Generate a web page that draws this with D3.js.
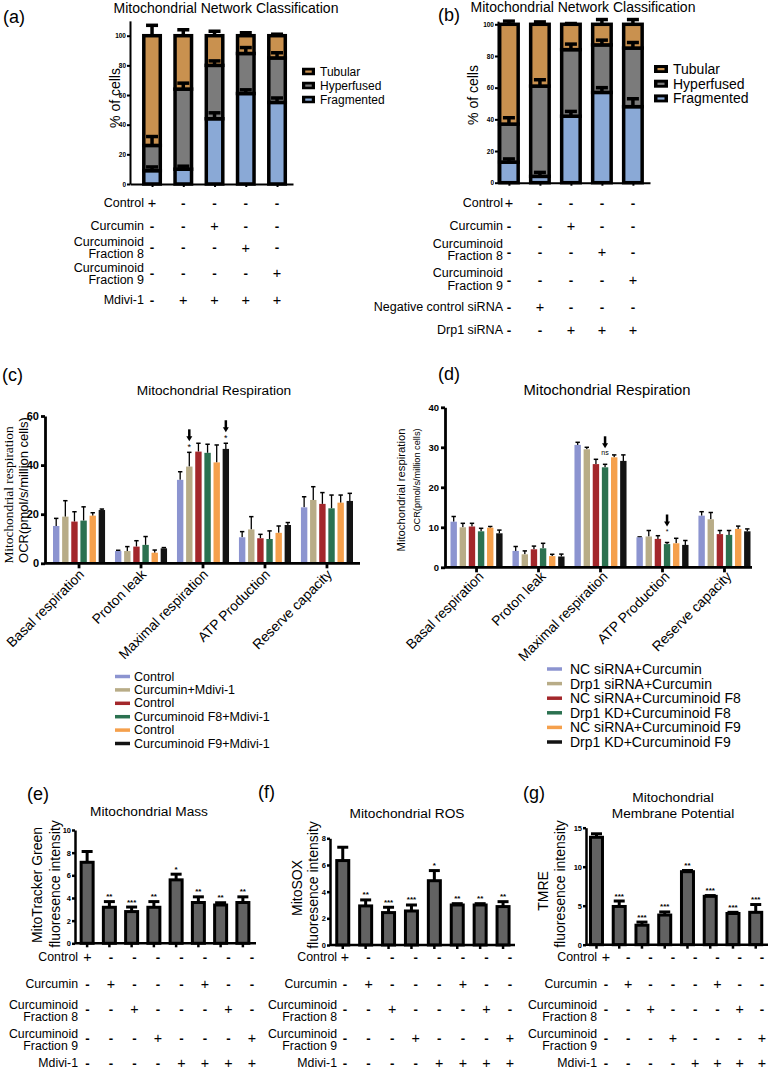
<!DOCTYPE html>
<html>
<head>
<meta charset="utf-8">
<script src="https://cdn.jsdelivr.net/npm/d3@7"></script>
<style>
  body { margin: 0; background: #fff; }
  svg { display: block; }
</style>
</head>
<body>
<div id="chart"></div>
<script>
// ---------- data ----------
const networkLegend = ["Tubular", "Hyperfused", "Fragmented"];

// (a) Mdivi-1 series, % of cells
const aFragmented = [9, 10, 44, 61, 55];
const aFragmentedErr = [2.5, 2, 4, 2.5, 3];
const aHyperfused = [17, 54, 36, 27, 30];
const aHyperfusedErr = [6, 4, 3, 4, 3.5];
const aTubular = [74, 36, 20, 12, 15];
const aTubularErr = [7, 4, 3, 2, 1];

// (b) Drp1 siRNA series
const bFragmented = [13, 4, 42, 57, 48];
const bFragmentedErr = [2, 2.5, 3, 3, 5];
const bHyperfused = [24, 57, 42, 30, 37];
const bHyperfusedErr = [4, 4, 3.5, 3, 3.5];
const bTubular = [63, 39, 16, 13, 15];
const bTubularErr = [2, 1.5, 0.5, 3, 3];

const aRowLabels = [["Control"], ["Curcumin"], ["Curcuminoid", "Fraction 8"], ["Curcuminoid", "Fraction 9"], ["Mdivi-1"]];
const aRowSigns = ["+----", "--+--", "---+-", "----+", "-++++"];
const bRowLabels = [["Control"], ["Curcumin"], ["Curcuminoid", "Fraction 8"], ["Curcuminoid", "Fraction 9"], ["Negative control siRNA"], ["Drp1 siRNA"]];
const bRowSigns = ["+----", "--+--", "---+-", "----+", "-+---", "--+++"];

// (c) / (d) mitochondrial respiration, OCR
const respGroups = ["Basal respiration", "Proton leak", "Maximal respiration", "ATP Production", "Reserve capacity"];

const cSeriesNames = ["Control", "Curcumin+Mdivi-1", "Control", "Curcuminoid F8+Mdivi-1", "Control", "Curcuminoid F9+Mdivi-1"];
const cMeans = [
  [15.2, 5.0, 34.0, 10.6, 22.8],
  [19.0, 5.0, 39.4, 13.8, 25.8],
  [17.0, 6.8, 45.5, 10.2, 24.2],
  [17.4, 7.5, 45.0, 9.9, 22.4],
  [19.4, 4.3, 41.1, 12.4, 24.7],
  [21.7, 6.1, 46.6, 15.6, 25.4]
];
const cErrors = [
  [3.1, 0.3, 3.3, 2.3, 4.3],
  [6.5, 1.8, 5.8, 5.2, 5.4],
  [4.0, 2.4, 3.4, 1.6, 4.6],
  [5.6, 3.4, 3.5, 3.3, 5.4],
  [1.2, 1.1, 7.1, 2.8, 3.1],
  [0.4, 0.3, 2.3, 1.0, 3.1]
];
const cMarks = [{group: 2, series: 1, text: "*"}, {group: 2, series: 5, text: "*"}];

const dSeriesNames = ["NC siRNA+Curcumin", "Drp1 siRNA+Curcumin", "NC siRNA+Curcuminoid F8", "Drp1 KD+Curcuminoid F8", "NC siRNA+Curcuminoid F9", "Drp1 KD+Curcuminoid F9"];
const dMeans = [
  [11.4, 4.1, 30.6, 7.5, 12.9],
  [10.0, 3.25, 29.5, 7.7, 12.0],
  [10.2, 4.5, 25.8, 7.1, 8.3],
  [9.0, 4.75, 25.0, 5.8, 8.1],
  [9.9, 2.8, 27.5, 6.0, 9.6],
  [8.5, 2.7, 26.6, 5.6, 9.0]
];
const dErrors = [
  [1.3, 1.1, 0.65, 0.1, 1.0],
  [1.0, 0.85, 0.5, 1.5, 1.7],
  [0.8, 0.8, 1.2, 0.8, 0.9],
  [0.75, 1.25, 0.75, 0.4, 1.1],
  [0.3, 0.45, 0.6, 1.25, 0.7],
  [0.8, 0.6, 1.5, 1.1, 0.6]
];
const dMarks = [{group: 2, series: 3, text: "ns"}, {group: 3, series: 3, text: "*"}];

// (e) (f) (g) fluorescence intensity
const eMeans = [7.15, 3.18, 2.8, 3.18, 5.6, 3.6, 3.38, 3.6];
const eErrors = [0.95, 0.5, 0.4, 0.5, 0.5, 0.5, 0.2, 0.5];
const eStars = ["", "**", "***", "**", "*", "**", "**", "**"];
const fMeans = [6.33, 2.93, 2.43, 2.55, 4.82, 3.0, 3.0, 2.88];
const fErrors = [1.0, 0.45, 0.4, 0.45, 0.76, 0.1, 0.1, 0.37];
const fStars = ["", "**", "***", "***", "*", "**", "**", "**"];
const gMeans = [13.77, 4.9, 2.5, 3.8, 9.36, 6.2, 4.0, 4.15];
const gErrors = [0.45, 0.7, 0.4, 0.4, 0.15, 0.1, 0.15, 1.0];
const gStars = ["", "***", "***", "***", "**", "***", "***", "***"];

const treatRowLabels = [["Control"], ["Curcumin"], ["Curcuminoid", "Fraction 8"], ["Curcuminoid", "Fraction 9"], ["Mdivi-1"]];
const treatRowSigns = ["+-------", "-+---+--", "--+---+-", "---+---+", "----++++"];

// ---------- drawing ----------
const W = 770, H = 1073;
const FONT = '"Liberation Sans", Arial, sans-serif';
const networkColors = {Tubular: "#c9914f", Hyperfused: "#7b7b7b", Fragmented: "#8aa9d6"};
const respColors = ["#8c94d0", "#b8ac87", "#a3272b", "#2b7150", "#f5a04c", "#131313"];

const svg = d3.select("#chart").append("svg")
    .attr("width", W)
    .attr("height", H)
    .style("font-family", FONT);
svg.append("rect").attr("width", W).attr("height", H).attr("fill", "#fff");

function addText(parent, txt, x, y, size, opts) {
    opts = opts || {};
    return parent.append("text")
        .attr("x", x)
        .attr("y", y)
        .attr("font-size", size)
        .attr("text-anchor", opts.anchor || "start")
        .attr("dominant-baseline", opts.baseline || "auto")
        .attr("font-weight", opts.weight || "normal")
        .attr("font-family", opts.family || FONT)
        .attr("fill", "#000")
        .text(txt);
}

function rotatedText(parent, txt, x, y, size, family) {
    parent.append("text")
        .attr("transform", `translate(${x},${y}) rotate(-90)`)
        .attr("text-anchor", "middle")
        .attr("dominant-baseline", "central")
        .attr("font-size", size)
        .attr("font-family", family || FONT)
        .text(txt);
}

function styleAxis(sel, lineW, fontSize) {
    sel.select(".domain").attr("stroke", "#000").attr("stroke-width", lineW);
    sel.selectAll(".tick line").attr("stroke", "#000").attr("stroke-width", lineW);
    sel.selectAll(".tick text")
        .attr("font-size", fontSize)
        .attr("font-weight", "bold")
        .attr("font-family", FONT)
        .attr("fill", "#000");
}

function drawConditions(p) {
    const g = svg.append("g");
    p.labels.forEach((lines, r) => {
        if (lines.length == 1) {
            addText(g, lines[0], p.labelX, p.rowY[r], p.font, {anchor: "end", baseline: "central"});
        } else {
            addText(g, lines[0], p.labelX, p.rowY[r] - p.lineGap / 2, p.font, {anchor: "end", baseline: "central"});
            addText(g, lines[1], p.labelX, p.rowY[r] + p.lineGap / 2, p.font, {anchor: "end", baseline: "central"});
        }
        p.signs[r].split("").forEach((s, i) => {
            addText(g, s, p.col(i), p.signY[r], s == "+" ? p.font + 2 : p.font + 1,
                {anchor: "middle", baseline: "central", weight: s == "-" ? "bold" : "normal"});
        });
    });
}

function drawNetwork(p) {
    const g = svg.append("g");
    const y = d3.scaleLinear().domain([0, 100]).range([p.baseY, p.y100]);
    const yAxisScale = d3.scaleLinear().domain([0, p.axisMax]).range([p.baseY, y(p.axisMax)]);
    const x = d3.scalePoint().domain(d3.range(p.frag.length))
        .range([p.axisX, p.axisEnd]).padding(p.pad).align(p.align);

    // stacked segments, bottom to top
    const segs = [];
    p.frag.forEach((f, i) => {
        const h = p.hyper[i], t = p.tub[i];
        segs.push({i: i, lo: 0, hi: f, err: p.fragErr[i], color: networkColors.Fragmented});
        segs.push({i: i, lo: f, hi: f + h, err: p.hyperErr[i], color: networkColors.Hyperfused});
        segs.push({i: i, lo: f + h, hi: f + h + t, err: p.tubErr[i], color: networkColors.Tubular});
    });

    g.selectAll("rect.seg").data(segs).join("rect")
        .attr("class", "seg")
        .attr("x", d => x(d.i) - p.barW / 2)
        .attr("y", d => y(d.hi))
        .attr("width", p.barW)
        .attr("height", d => y(d.lo) - y(d.hi))
        .attr("fill", d => d.color)
        .attr("stroke", "#000")
        .attr("stroke-width", 3.5);

    g.selectAll("line.err").data(segs).join("line")
        .attr("class", "err")
        .attr("x1", d => x(d.i)).attr("x2", d => x(d.i))
        .attr("y1", d => y(d.hi)).attr("y2", d => y(d.hi + d.err))
        .attr("stroke", "#000").attr("stroke-width", 3.5);
    g.selectAll("line.cap").data(segs).join("line")
        .attr("class", "cap")
        .attr("x1", d => x(d.i) - 6).attr("x2", d => x(d.i) + 6)
        .attr("y1", d => y(d.hi + d.err)).attr("y2", d => y(d.hi + d.err))
        .attr("stroke", "#000").attr("stroke-width", 3.5);

    const ya = g.append("g").attr("transform", `translate(${p.axisX},0)`)
        .call(d3.axisLeft(yAxisScale).tickValues([0, 20, 40, 60, 80, 100]).tickSize(3).tickSizeOuter(0).tickPadding(1));
    styleAxis(ya, 2, 6.5);

    const xa = g.append("g").attr("transform", `translate(0,${p.baseY})`)
        .call(d3.axisBottom(x).tickSize(3).tickSizeOuter(0).tickFormat(""));
    styleAxis(xa, 2, 6);

    rotatedText(g, "% of cells", p.ylabX, p.ylabY, 14);
    addText(g, p.title, p.titleX, p.titleY, 14, {anchor: "middle"});
    addText(g, p.tag, p.tagX, p.tagY, 18);

    // legend
    networkLegend.forEach((name, k) => {
        const ly = p.legendY + k * p.legendStep;
        g.append("rect").attr("x", p.legendX).attr("y", ly - p.swH / 2)
            .attr("width", p.swW).attr("height", p.swH).attr("fill", "#000");
        g.append("rect").attr("x", p.legendX + p.swW * 0.25).attr("y", ly - 1)
            .attr("width", p.swW * 0.5).attr("height", 2.2).attr("fill", networkColors[name]);
        addText(g, name, p.legendX + p.swW + 5, ly, p.legendFont, {baseline: "central"});
    });

    drawConditions({
        labels: p.rowLabels, signs: p.rowSigns, col: x,
        labelX: p.rowLabelX, rowY: p.rowY, signY: p.signY, lineGap: 12.5, font: 12.5
    });
}

function drawRespiration(p) {
    const g = svg.append("g");
    const y = d3.scaleLinear().domain([0, p.yMax]).range([p.baseY, p.topY]);
    const x0 = d3.scaleBand().domain(respGroups).range([p.bandStart, p.bandEnd]).paddingInner(0.16);
    const x1 = d3.scaleBand().domain(d3.range(p.names.length)).range([0, x0.bandwidth()]).paddingInner(0.3);

    const bars = [];
    p.means.forEach((row, s) => row.forEach((v, k) => {
        bars.push({s: s, group: respGroups[k], v: v, e: p.errors[s][k]});
    }));
    const bx = d => x0(d.group) + x1(d.s);

    g.selectAll("line.err").data(bars).join("line")
        .attr("class", "err")
        .attr("x1", d => bx(d) + x1.bandwidth() / 2).attr("x2", d => bx(d) + x1.bandwidth() / 2)
        .attr("y1", d => y(d.v)).attr("y2", d => y(d.v + d.e))
        .attr("stroke", "#000").attr("stroke-width", 1.3);
    g.selectAll("line.cap").data(bars).join("line")
        .attr("class", "cap")
        .attr("x1", d => bx(d) + x1.bandwidth() / 2 - 2.2).attr("x2", d => bx(d) + x1.bandwidth() / 2 + 2.2)
        .attr("y1", d => y(d.v + d.e)).attr("y2", d => y(d.v + d.e))
        .attr("stroke", "#000").attr("stroke-width", 1.5);
    g.selectAll("rect.bar").data(bars).join("rect")
        .attr("class", "bar")
        .attr("x", bx)
        .attr("y", d => y(d.v))
        .attr("width", x1.bandwidth())
        .attr("height", d => p.baseY - y(d.v))
        .attr("fill", d => respColors[d.s]);

    // significance marks with arrows
    p.marks.forEach(m => {
        const cx = x0(respGroups[m.group]) + x1(m.series) + x1.bandwidth() / 2;
        const top = y(p.means[m.series][m.group] + p.errors[m.series][m.group]);
        addText(g, m.text, cx, top - p.markGap, m.text == "*" ? p.starSize : 7, {anchor: "middle"});
        const ab = top - p.arrowGap, at = ab - 12;
        g.append("line").attr("x1", cx).attr("x2", cx).attr("y1", at).attr("y2", ab - 4)
            .attr("stroke", "#000").attr("stroke-width", 2.5);
        g.append("path").attr("d", `M${cx - 3},${ab - 5}L${cx + 3},${ab - 5}L${cx},${ab}Z`).attr("fill", "#000");
    });

    const ya = g.append("g").attr("transform", `translate(${p.axisX},0)`)
        .call(d3.axisLeft(y).tickValues(p.yTicks).tickSize(4).tickSizeOuter(0).tickPadding(2));
    styleAxis(ya, 2.8, p.tickFont);

    g.append("line").attr("x1", p.axisX).attr("x2", p.axisEnd)
        .attr("y1", p.baseY).attr("y2", p.baseY)
        .attr("stroke", "#000").attr("stroke-width", 2.8);
    g.selectAll("line.xt").data(respGroups).join("line")
        .attr("class", "xt")
        .attr("x1", d => x0(d) + x0.bandwidth() / 2).attr("x2", d => x0(d) + x0.bandwidth() / 2)
        .attr("y1", p.baseY).attr("y2", p.baseY + 5)
        .attr("stroke", "#000").attr("stroke-width", 2.8);
    g.selectAll("text.xl").data(respGroups).join("text")
        .attr("class", "xl")
        .attr("transform", d => `translate(${x0(d) + x0.bandwidth() / 2 + p.labelDX},${p.baseY + p.labelDY}) rotate(-45)`)
        .attr("text-anchor", "end")
        .attr("font-size", 13.8)
        .text(d => d);

    addText(g, p.title, p.titleX, p.titleY, p.titleSize, {anchor: "middle"});
    addText(g, p.tag, p.tagX, p.tagY, 18);
    p.ylab.forEach(l => rotatedText(g, l.text, l.x, l.y, l.size, l.family));

    p.names.forEach((name, s) => {
        const ly = p.legendY + s * p.legendStep;
        g.append("line").attr("x1", p.legendX).attr("x2", p.legendX + 15)
            .attr("y1", ly).attr("y2", ly)
            .attr("stroke", respColors[s]).attr("stroke-width", 3.5);
        addText(g, name, p.legendX + p.legendTextDX, ly, p.legendFont, {baseline: "central"});
    });
}

function drawFluor(p) {
    const g = svg.append("g");
    const y = d3.scaleLinear().domain([0, p.yMax]).range([p.baseY, p.topY]);
    const x = d3.scaleBand().domain(d3.range(p.means.length)).range([p.bandStart, p.bandEnd]);
    const cx = i => x(i) + x.bandwidth() / 2;
    const bw = 12;
    const bars = p.means.map((m, i) => ({i: i, m: m, e: p.errors[i], star: p.stars[i]}));

    g.selectAll("line.err").data(bars).join("line")
        .attr("class", "err")
        .attr("x1", d => cx(d.i)).attr("x2", d => cx(d.i))
        .attr("y1", d => y(d.m)).attr("y2", d => y(d.m + d.e))
        .attr("stroke", "#000").attr("stroke-width", 3);
    g.selectAll("line.cap").data(bars).join("line")
        .attr("class", "cap")
        .attr("x1", d => cx(d.i) - 5.5).attr("x2", d => cx(d.i) + 5.5)
        .attr("y1", d => y(d.m + d.e)).attr("y2", d => y(d.m + d.e))
        .attr("stroke", "#000").attr("stroke-width", 3);
    g.selectAll("rect.bar").data(bars).join("rect")
        .attr("class", "bar")
        .attr("x", d => cx(d.i) - bw / 2)
        .attr("y", d => y(d.m))
        .attr("width", bw)
        .attr("height", d => p.baseY - y(d.m))
        .attr("fill", "#626262")
        .attr("stroke", "#000")
        .attr("stroke-width", 3);
    g.selectAll("text.star").data(bars).join("text")
        .attr("class", "star")
        .attr("x", d => cx(d.i))
        .attr("y", d => y(d.m + d.e) - 2.5)
        .attr("text-anchor", "middle")
        .attr("font-size", 8)
        .attr("font-weight", "bold")
        .text(d => d.star);

    const ya = g.append("g").attr("transform", `translate(${p.axisX},0)`)
        .call(d3.axisLeft(y).tickValues(p.yTicks).tickSize(3).tickSizeOuter(0).tickPadding(1));
    styleAxis(ya, 2.5, 7.5);

    const xa = g.append("g").attr("transform", `translate(0,${p.baseY})`)
        .call(d3.axisBottom(x).tickSize(4).tickSizeOuter(0).tickFormat(""));
    styleAxis(xa, 2.5, 6);
    xa.select(".domain").remove();
    g.append("line").attr("x1", p.axisX).attr("x2", p.axisEnd)
        .attr("y1", p.baseY).attr("y2", p.baseY)
        .attr("stroke", "#000").attr("stroke-width", 2.5);

    p.title.forEach((t, k) => addText(g, t, p.titleX, p.titleY + k * 16, 13.7, {anchor: "middle"}));
    addText(g, p.tag, p.tagX, p.tagY, 18);
    p.ylab.forEach((t, k) => rotatedText(g, t, p.ylabX[k], p.ylabY[k], 14));

    const col = d3.scalePoint().domain(d3.range(p.means.length)).range([p.colStart, p.colEnd]);
    drawConditions({
        labels: treatRowLabels, signs: treatRowSigns, col: col,
        labelX: p.labelX, rowY: [957, 984, 1011, 1040, 1063], signY: [957, 984, 1009, 1038, 1063],
        lineGap: 12, font: 12.3
    });
}

// (a)
drawNetwork({
    frag: aFragmented, fragErr: aFragmentedErr, hyper: aHyperfused, hyperErr: aHyperfusedErr,
    tub: aTubular, tubErr: aTubularErr,
    baseY: 184, y100: 35.7, axisMax: 110, axisX: 130, axisEnd: 293, pad: 0.608, align: 0.58, barW: 16.5,
    title: "Mitochondrial Network Classification", titleX: 226, titleY: 13, tag: "(a)", tagX: 3, tagY: 23,
    ylabX: 115, ylabY: 98,
    legendX: 302, legendY: 71.5, legendStep: 14, swW: 13, swH: 7.5, legendFont: 12,
    rowLabels: aRowLabels, rowSigns: aRowSigns, rowLabelX: 144,
    rowY: [203, 226, 248, 274, 300], signY: [203, 226, 247.5, 273, 300]
});

// (b)
drawNetwork({
    frag: bFragmented, fragErr: bFragmentedErr, hyper: bHyperfused, hyperErr: bHyperfusedErr,
    tub: bTubular, tubErr: bTubularErr,
    baseY: 182.7, y100: 24.3, axisMax: 102, axisX: 498, axisEnd: 650, pad: 0.452, align: 0.39, barW: 18.5,
    title: "Mitochondrial Network Classification", titleX: 583, titleY: 12, tag: "(b)", tagX: 438, tagY: 21,
    ylabX: 473, ylabY: 95,
    legendX: 654, legendY: 69, legendStep: 14.7, swW: 14, swH: 8, legendFont: 14,
    rowLabels: bRowLabels, rowSigns: bRowSigns, rowLabelX: 503,
    rowY: [203, 226, 250, 279.5, 307, 330], signY: [203, 226, 252, 280, 307, 330]
});

// (c)
drawRespiration({
    names: cSeriesNames, means: cMeans, errors: cErrors, marks: cMarks,
    yMax: 60, yTicks: [0, 20, 40, 60], baseY: 563.3, topY: 416,
    axisX: 45, axisEnd: 360, bandStart: 53, bandEnd: 353, tickFont: 11,
    markGap: 2, arrowGap: 11, starSize: 9,
    labelDX: 6, labelDY: 12,
    title: "Mitochondrial Respiration", titleX: 214, titleY: 395, titleSize: 13.7, tag: "(c)", tagX: 2, tagY: 381,
    ylab: [
        {text: "Mitochondrial respiration", x: 8, y: 495, size: 13.4, family: '"Liberation Serif", "Times New Roman", serif'},
        {text: "OCR(pmol/s/million cells)", x: 23, y: 490, size: 13}
    ],
    legendX: 115, legendY: 676.5, legendStep: 13.4, legendTextDX: 19, legendFont: 12.5
});

// (d)
drawRespiration({
    names: dSeriesNames, means: dMeans, errors: dErrors, marks: dMarks,
    yMax: 40, yTicks: [0, 10, 20, 30, 40], baseY: 567.3, topY: 407.3,
    axisX: 445, axisEnd: 752, bandStart: 450.5, bandEnd: 750.5, tickFont: 9.5,
    markGap: 9, arrowGap: 16, starSize: 7,
    labelDX: 8, labelDY: 10,
    title: "Mitochondrial Respiration", titleX: 607, titleY: 395, titleSize: 14.8, tag: "(d)", tagX: 438, tagY: 380,
    ylab: [
        {text: "Mitochondrial respiration", x: 401, y: 490, size: 11.3},
        {text: "OCR(pmol/s/million cells)", x: 417, y: 480, size: 9.2}
    ],
    legendX: 547, legendY: 669, legendStep: 14.6, legendTextDX: 23, legendFont: 14
});

// (e)
drawFluor({
    means: eMeans, errors: eErrors, stars: eStars,
    yMax: 10, yTicks: [0, 2, 4, 6, 8, 10], baseY: 943.3, topY: 830,
    axisX: 75, axisEnd: 256, bandStart: 76, bandEnd: 254,
    title: ["Mitochondrial Mass"], titleX: 149, titleY: 816, tag: "(e)", tagX: 27, tagY: 800,
    ylab: ["MitoTracker Green", "fluoresence intensity"], ylabX: [37, 55], ylabY: [885, 884],
    labelX: 78, colStart: 87.5, colEnd: 252
});

// (f)
drawFluor({
    means: fMeans, errors: fErrors, stars: fStars,
    yMax: 8, yTicks: [0, 2, 4, 6, 8], baseY: 945, topY: 838.3,
    axisX: 330, axisEnd: 515, bandStart: 331.3, bandEnd: 514.5,
    title: ["Mitochondrial ROS"], titleX: 407, titleY: 818, tag: "(f)", tagX: 258, tagY: 798,
    ylab: ["MitoSOX", "fluoresence intensity"], ylabX: [297, 313], ylabY: [888, 885],
    labelX: 337, colStart: 345, colEnd: 510
});

// (g)
drawFluor({
    means: gMeans, errors: gErrors, stars: gStars,
    yMax: 15, yTicks: [0, 5, 10, 15], baseY: 944.7, topY: 827.7,
    axisX: 586, axisEnd: 768, bandStart: 585.1, bandEnd: 767.1,
    title: ["Mitochondrial", "Membrane Potential"], titleX: 673, titleY: 802, tag: "(g)", tagX: 523, tagY: 799,
    ylab: ["TMRE", "fluoresence intensity"], ylabX: [543, 560], ylabY: [891, 884],
    labelX: 597, colStart: 606, colEnd: 762
});
</script>
</body>
</html>
